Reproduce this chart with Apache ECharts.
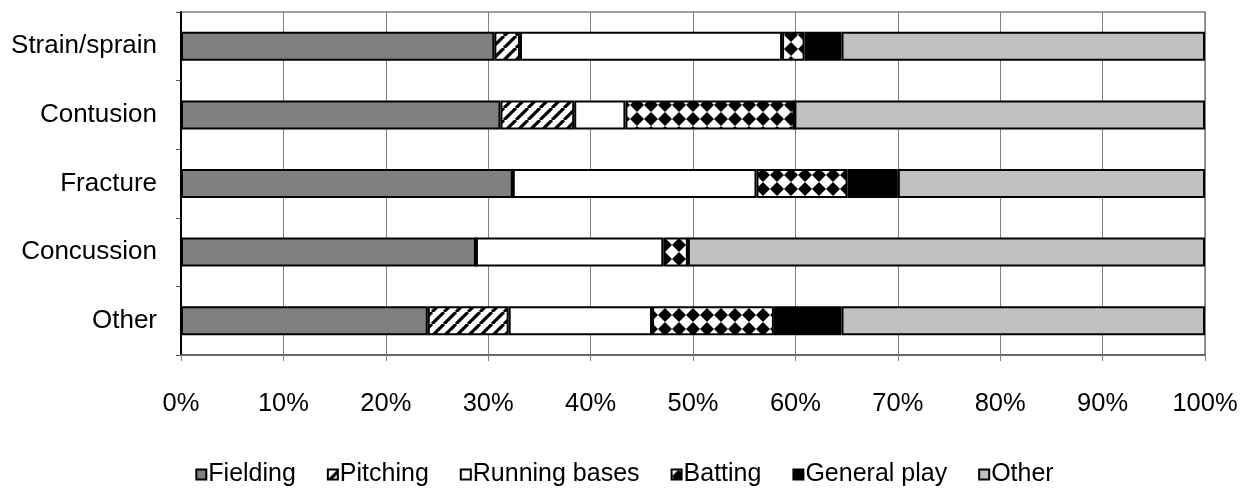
<!DOCTYPE html>
<html>
<head>
<meta charset="utf-8">
<script src="https://cdn.jsdelivr.net/npm/echarts@6/dist/echarts.min.js"></script>
<style>
  html, body { margin: 0; padding: 0; background: #fff; }
  #chart { width: 1249px; height: 493px; }
</style>
</head>
<body>
<div id="chart"></div>
<script>
  // injury type rows, top to bottom
  var categories = ['Strain/sprain', 'Contusion', 'Fracture', 'Concussion', 'Other']
  var seriesNames = ['Fielding', 'Pitching', 'Running bases', 'Batting', 'General play', 'Other']
  // percent of each row
  var fielding = [30.6, 31.2, 32.4, 28.8, 24.1]
  var pitching = [2.5, 7.2, 0, 0, 7.9]
  var running = [25.6, 5.0, 23.8, 18.3, 14.0]
  var batting = [2.2, 16.5, 8.9, 2.4, 11.9]
  var generalPlay = [3.6, 0, 4.9, 0, 6.6]
  var otherCause = [35.5, 40.1, 30.0, 50.5, 35.5]
  var xTicks = [0, 10, 20, 30, 40, 50, 60, 70, 80, 90, 100]

  // diagonal hatch
  function hatchPattern() {
    var c = document.createElement('canvas')
    c.width = 12
    c.height = 12
    var ctx = c.getContext('2d')
    ctx.fillStyle = '#fff'
    ctx.fillRect(0, 0, 12, 12)
    ctx.strokeStyle = '#000'
    ctx.lineWidth = 3.2
    ctx.beginPath()
    for (var k = -1; k <= 1; k++) {
      ctx.moveTo(k * 12, 12)
      ctx.lineTo(k * 12 + 12, 0)
    }
    ctx.stroke()
    return c
  }

  // diamond checks
  function diamondPattern() {
    var c = document.createElement('canvas')
    c.width = 14
    c.height = 14
    var ctx = c.getContext('2d')
    ctx.fillStyle = '#fff'
    ctx.fillRect(0, 0, 14, 14)
    ctx.fillStyle = '#000'
    ctx.beginPath()
    ctx.moveTo(7, 0)
    ctx.lineTo(14, 7)
    ctx.lineTo(7, 14)
    ctx.lineTo(0, 7)
    ctx.closePath()
    ctx.fill()
    return c
  }

  var fills = [
    '#808080',
    { image: hatchPattern(), repeat: 'repeat' },
    '#ffffff',
    { image: diamondPattern(), repeat: 'repeat' },
    '#000000',
    '#c0c0c0'
  ]
  var values = [fielding, pitching, running, batting, generalPlay, otherCause]

  var chart = echarts.init(document.getElementById('chart'))
  chart.setOption({
    animation: false,
    textStyle: { fontFamily: 'Liberation Sans, Arial, sans-serif' },
    grid: {
      left: 181,
      right: 44,
      top: 12,
      bottom: 138,
      show: true,
      borderColor: '#808080',
      borderWidth: 1.5
    },
    legend: {
      bottom: 1,
      left: 'center',
      icon: 'rect',
      itemWidth: 10,
      itemHeight: 10,
      itemGap: 31,
      textStyle: { fontSize: 25, color: '#000', padding: [0, 0, 0, -3] },
      data: seriesNames
    },
    xAxis: {
      type: 'value',
      min: 0,
      max: 100,
      interval: 10,
      axisLine: { show: true, lineStyle: { color: '#555', width: 1.5 } },
      axisTick: { show: true, length: 6, lineStyle: { color: '#808080' } },
      axisLabel: {
        margin: 36,
        fontSize: 25.5,
        color: '#000',
        formatter: function (v) {
          return xTicks.indexOf(v) >= 0 ? v + '%' : ''
        }
      },
      splitLine: { show: true, lineStyle: { color: '#808080', width: 1 } }
    },
    yAxis: {
      type: 'category',
      inverse: true,
      data: categories,
      axisLine: { show: true, lineStyle: { color: '#000', width: 2 } },
      axisTick: { show: true, length: 5, lineStyle: { color: '#555' } },
      axisLabel: { margin: 24, fontSize: 26, color: '#000' }
    },
    series: seriesNames.map(function (name, i) {
      return {
        name: name,
        type: 'bar',
        stack: 'total',
        barWidth: 29,
        data: values[i],
        itemStyle: { color: fills[i], borderColor: '#000', borderWidth: 2 }
      }
    })
  })
</script>
</body>
</html>
